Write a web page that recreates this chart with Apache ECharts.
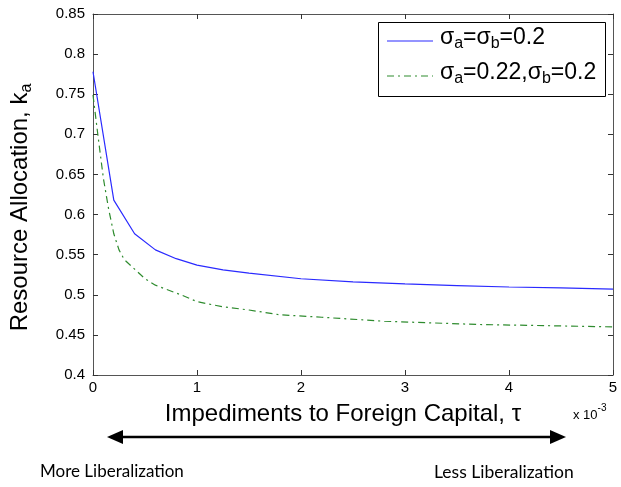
<!DOCTYPE html>
<html><head><meta charset="utf-8">
<script src="https://cdn.jsdelivr.net/npm/echarts@6/dist/echarts.min.js"></script>
<style>html,body{margin:0;padding:0;background:#fff}#c{width:621px;height:487px}</style>
</head><body><div id="c"></div>
<script>
const xTicks = [0, 1, 2, 3, 4, 5];
const yTicks = [0.4, 0.45, 0.5, 0.55, 0.6, 0.65, 0.7, 0.75, 0.8, 0.85];
const blueX = [0, 0.2, 0.4, 0.6, 0.8, 1.0, 1.25, 1.5, 2, 2.5, 3, 3.5, 4, 4.5, 5];
const blueY = [0.778, 0.618, 0.576, 0.556, 0.545, 0.537, 0.531, 0.527, 0.520, 0.516, 0.5135, 0.5115, 0.5097, 0.5085, 0.507];
const greenX = [0, 0.05, 0.1, 0.15, 0.2, 0.25, 0.3, 0.4, 0.5, 0.6, 0.7, 0.85, 1, 1.25, 1.5, 1.8, 2.2, 2.8, 3.7, 5];
const greenY = [0.749, 0.696, 0.645, 0.607, 0.576, 0.556, 0.544, 0.532, 0.52, 0.512, 0.507, 0.4997, 0.4914, 0.485, 0.481, 0.475, 0.472, 0.467, 0.463, 0.460];
const seriesNames = ['σa=σb=0.2', 'σa=0.22,σb=0.2'];

const chart = echarts.init(document.getElementById('c'), null, {renderer: 'canvas'});
const F = 'Liberation Sans, Arial, sans-serif';
const axisCommon = {
  axisLine: {show: true, onZero: false, lineStyle: {color: '#555', width: 1}},
  axisTick: {show: true, inside: true, length: 5, lineStyle: {color: '#333'}},
  splitLine: {show: false}
};
const grid = {left: 91, right: 8, top: 14, bottom: 112, containLabel: false};
const richTitle = {
  n: {fontFamily: F, fontSize: 24, color: '#000'},
  s: {fontFamily: F, fontSize: 16, color: '#000', padding: [14, 0, 0, 0]}
};
const richLeg = {
  n: {fontFamily: F, fontSize: 23, color: '#000'},
  s: {fontFamily: F, fontSize: 16, color: '#000', padding: [13, 0, 0, 0]}
};
chart.setOption({
  animation: false,
  grid: grid,
  xAxis: [
    Object.assign({}, axisCommon, {
      type: 'value', min: xTicks[0], max: xTicks[xTicks.length - 1], interval: 1,
      axisLabel: {fontFamily: F, fontSize: 15, color: '#000', margin: 5},
      name: 'Impediments to Foreign Capital, τ', nameLocation: 'middle', nameGap: 27,
      nameTextStyle: {fontFamily: F, fontSize: 24, color: '#000', padding: [0, 20, 0, 0]}
    }),
    Object.assign({}, axisCommon, {
      type: 'value', position: 'top', min: 0, max: 5, interval: 1, axisLabel: {show: false}
    })
  ],
  yAxis: [
    Object.assign({}, axisCommon, {
      type: 'value', min: yTicks[0], max: yTicks[yTicks.length - 1], interval: 0.05,
      axisLabel: {fontFamily: F, fontSize: 15, color: '#000', margin: 8},
      name: '{n|Resource Allocation, k}{s|a}', nameLocation: 'middle', nameGap: 58,
      nameTextStyle: {rich: richTitle, padding: [0, 26, 0, 0]}
    }),
    Object.assign({}, axisCommon, {
      type: 'value', position: 'right', min: 0.4, max: 0.85, interval: 0.05, axisLabel: {show: false}
    })
  ],
  series: [
    {name: seriesNames[0], type: 'line', showSymbol: false, symbol: 'none',
     data: blueX.map((x, i) => [x, blueY[i]]),
     lineStyle: {color: '#2a2aff', width: 1.2}},
    {name: seriesNames[1], type: 'line', showSymbol: false, symbol: 'none',
     data: greenX.map((x, i) => [x, greenY[i]]),
     lineStyle: {color: '#2e8b2e', width: 1.2, type: [7, 4, 2, 4]}}
  ],
  graphic: [
    {type: 'rect', shape: {x: 378.5, y: 22.5, width: 227, height: 74},
     style: {fill: '#fff', stroke: '#000', lineWidth: 1}, z: 100},
    {type: 'line', shape: {x1: 387, y1: 41, x2: 433, y2: 41},
     style: {stroke: '#2a2aff', lineWidth: 1.2}, z: 101},
    {type: 'line', shape: {x1: 387, y1: 76, x2: 433, y2: 76},
     style: {stroke: '#2e8b2e', lineWidth: 1.2, lineDash: [7, 4, 2, 4]}, z: 101},
    {type: 'text', left: 440, top: 26, z: 101,
     style: {text: '{n|σ}{s|a}{n|=σ}{s|b}{n|=0.2}', rich: richLeg}},
    {type: 'text', left: 440, top: 61, z: 101,
     style: {text: '{n|σ}{s|a}{n|=0.22,σ}{s|b}{n|=0.2}', rich: richLeg}},
    {type: 'text', left: 573, top: 403,
     style: {text: '{a|x 10}{b|-3}', rich: {a: {fontFamily: F, fontSize: 13, color: '#000', padding: [8, 0, 0, 0]}, b: {fontFamily: F, fontSize: 10, color: '#000', padding: [0, 0, 6, 0]}}}},
    {type: 'line', shape: {x1: 118, y1: 437, x2: 556, y2: 437}, style: {stroke: '#000', lineWidth: 2.5}},
    {type: 'polygon', shape: {points: [[107, 437], [123, 430], [123, 444]]}, style: {fill: '#000'}},
    {type: 'polygon', shape: {points: [[566, 437], [550, 430], [550, 444]]}, style: {fill: '#000'}},
    {type: 'text', left: 40, top: 463, style: {text: 'More Liberalization', font: '17px Lato, "Open Sans", sans-serif', fill: '#000'}},
    {type: 'text', left: 434, top: 463, style: {text: 'Less Liberalization', font: '17.5px Lato, "Open Sans", sans-serif', fill: '#000'}}
  ]
});
</script></body></html>
